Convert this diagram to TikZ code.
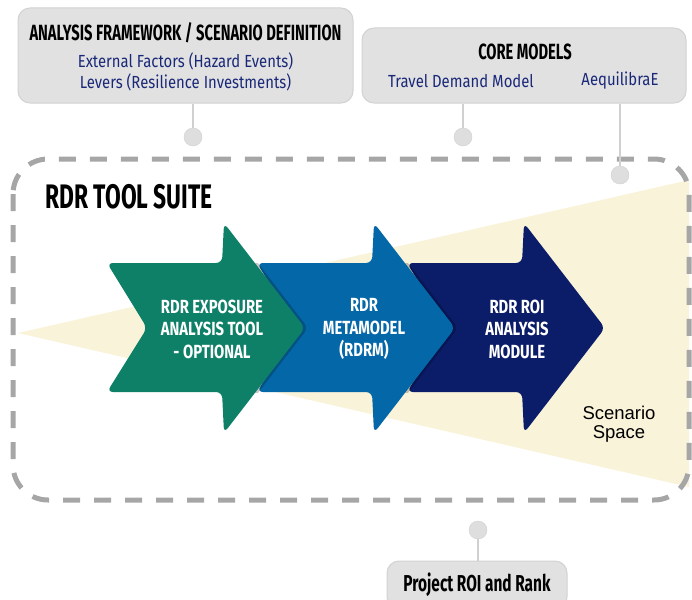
\documentclass[tikz,border=0pt]{standalone}
\usepackage{fontspec}
\usepackage{xcolor}
\usetikzlibrary{shapes,arrows}
\setmainfont{Liberation Sans}
\newfontfamily\condbold[FakeStretch=0.67]{Fira Sans}
\newfontfamily\condreg[FakeStretch=0.85]{Fira Sans}
\newfontfamily\arrfont[FakeStretch=0.78]{Fira Sans}
\definecolor{boxgray}{RGB}{225,225,225}
\definecolor{boxline}{RGB}{210,210,210}
\definecolor{dotgray}{RGB}{222,222,222}
\definecolor{linkgray}{RGB}{208,208,208}
\definecolor{dashgray}{RGB}{166,166,166}
\definecolor{cream}{RGB}{249,243,218}
\definecolor{textnavy}{RGB}{26,40,120}
\definecolor{arrgreen}{RGB}{14,128,104}
\definecolor{arrblue}{RGB}{4,103,168}
\definecolor{arrnavy}{RGB}{11,28,104}
\def\arrpath{(107,263) -- (222,263) -- (224,223) -- (305,328) -- (224,433) -- (222,392) -- (107,392) -- (147,328) -- cycle}

\begin{document}
\begin{tikzpicture}[x=1pt, y=-1pt]
\tikzstyle{boxg}=[rectangle, rounded corners=12pt, fill=boxgray, draw=boxline, line width=1pt, inner sep=0pt]
\tikzstyle{dot}=[circle, fill=dotgray, draw=linkgray, minimum size=18pt, inner sep=0pt]
\tikzstyle{link}=[line width=2pt, draw=linkgray]
\tikzstyle{title}=[font=\condbold\bfseries\fontsize{22}{24}\selectfont, text=black]
\tikzstyle{item}=[font=\condreg\fontsize{17.5}{19}\selectfont, text=textnavy]
\tikzstyle{arrtext}=[font=\arrfont\bfseries\fontsize{19}{22.5}\selectfont, text=white, align=center]
\useasboundingbox (0,0) rectangle (692,599);

% scenario space and tool suite frame
\fill[cream] (18,333) -- (689,180) -- (689,487) -- cycle;
\draw[dashgray, line width=5pt, dash pattern=on 17pt off 14pt, rounded corners=35pt] (13,159) rectangle (689,500);
\node[anchor=west, font=\condbold\bfseries\fontsize{34}{36}\selectfont] (S0) at (42,197) {RDR TOOL SUITE};
\node[align=center, font=\fontsize{18.5}{19.5}\selectfont] (S1) at (619,424) {Scenario\\Space};

% chevron arrows, each one shading the next
\foreach \x/\c in {300/arrnavy, 150/arrblue, 0/arrgreen} {
  \ifnum\x<300
    \begin{scope}
      \clip ({222+\x},263) rectangle ({330+\x},392);
      \fill[black, opacity=0.22, rounded corners=6pt, shift={(\x+3,0)}] \arrpath;
    \end{scope}
  \fi
  \fill[\c, rounded corners=6pt, shift={(\x,0)}] \arrpath;
}
\node[arrtext] (A0) at (212,329) {RDR EXPOSURE\\ANALYSIS TOOL\\- OPTIONAL};
\node[arrtext] (A1) at (364,329) {RDR\\METAMODEL\\(RDRM)};
\node[arrtext] (A2) at (517,329) {RDR ROI\\ANALYSIS\\MODULE};

% framework box
\node[boxg, minimum width=335pt, minimum height=95pt] (F0) at (185.5,55.5) {};
\node[title] (F1) at (185.5,33) {ANALYSIS FRAMEWORK / SCENARIO DEFINITION};
\node[item] (F2) at (185.5,61) {External Factors (Hazard Events)};
\node[item] (F3) at (185.5,82) {Levers (Resilience Investments)};

% core models box
\node[boxg, minimum width=324pt, minimum height=75pt] (C0) at (524,65.5) {};
\node[title] (C1) at (525,52) {CORE MODELS};
\node[item] (C2) at (461,81) {Travel Demand Model};
\node[item] (C3) at (620,81) {AequilibraE};

% output box
\node[boxg, minimum width=180pt, minimum height=48pt, title, font=\condbold\bfseries\fontsize{23}{25}\selectfont] (P0) at (477,585) {Project ROI and Rank};

% connectors
\node[dot] (D1) at (193,137) {};
\node[dot] (D2) at (463,137) {};
\node[dot] (D3) at (620,175) {};
\node[dot] (D4) at (478,530) {};
\draw[link] (F0.south -| D1) -- (D1);
\draw[link] (C0.south -| D2) -- (D2);
\draw[link] (C0.south -| D3) -- (D3);
\draw[link] (D4) -- (P0.north -| D4);
\end{tikzpicture}
\end{document}
